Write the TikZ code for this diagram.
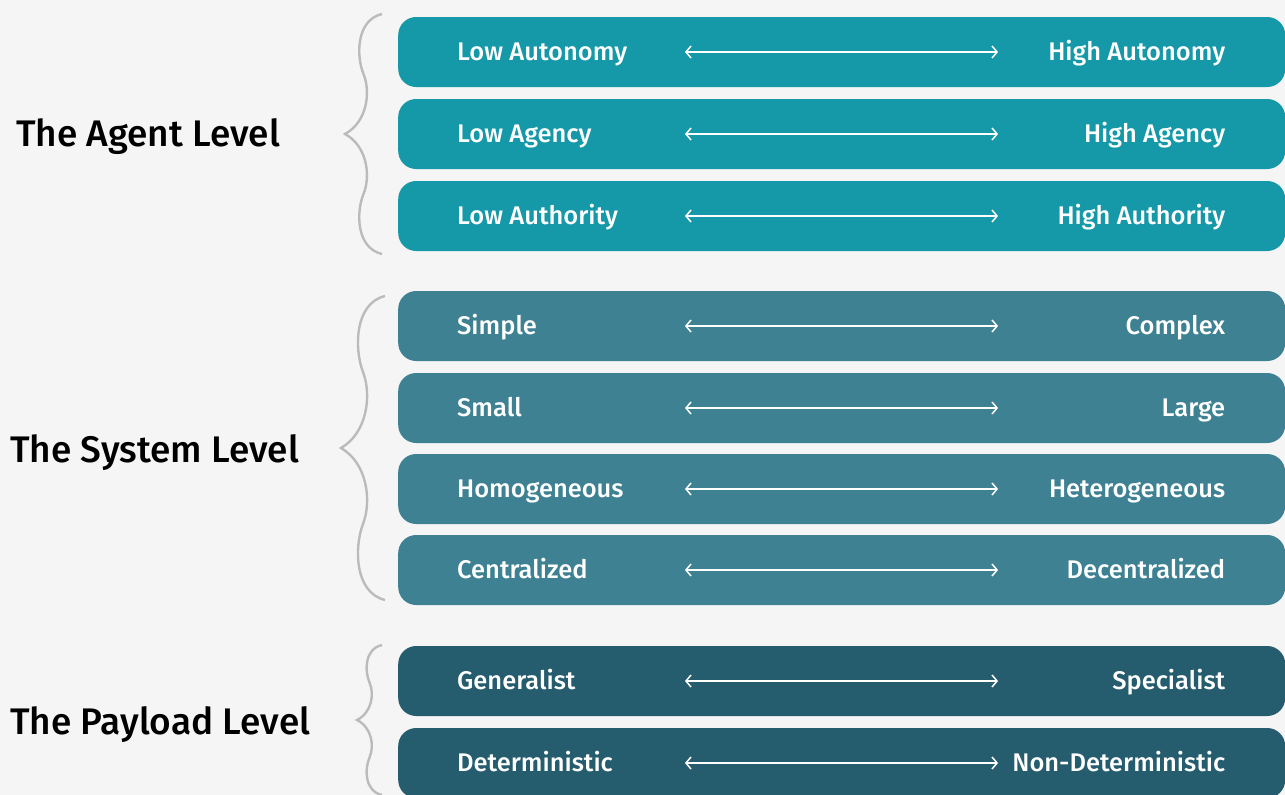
\documentclass[tikz,border=0pt]{standalone}
\usepackage{fontspec}
\setmainfont{Fira Sans}[UprightFont={* Medium}]
\usetikzlibrary{arrows.meta,positioning}
\definecolor{pagebg}{HTML}{F5F5F5}
\definecolor{agentc}{HTML}{1598A8}
\definecolor{systemc}{HTML}{3E8192}
\definecolor{payloadc}{HTML}{255C6E}
\definecolor{bracec}{HTML}{BBBBBB}

\tikzset{
  bar/.style={fill=#1, rounded corners=18pt, minimum width=887pt, minimum height=70pt, anchor=west, inner sep=0pt},
  lowlbl/.style={text=white, inner sep=0pt, text height=17.6pt, text depth=0pt, font=\fontsize{25.5}{28}\selectfont},
  highlbl/.style={text=white, inner sep=0pt, text height=17.6pt, text depth=0pt, font=\fontsize{25.5}{28}\selectfont},
  span/.style={{Straight Barb[length=5pt,width=12pt]}-{Straight Barb[length=5pt,width=12pt]}, white, line width=1.5pt},
  levellbl/.style={anchor=west, inner sep=0pt, text height=25.5pt, text depth=0pt, font=\fontsize{37}{42}\selectfont},
  brace/.style={draw=bracec, line width=2.4pt}
}

% tip x, tip y, width, half height
\newcommand\levelbrace[4]{%
  \draw[brace, shift={(#1,#2)}, x=#3pt, y=-#4pt]
    (1,-1) .. controls (0.3,-0.95) and (0.3,-0.65) .. (0.5,-0.5)
           .. controls (0.7,-0.35) and (0.6,-0.1) .. (0,0)
           .. controls (0.6,0.1) and (0.7,0.35) .. (0.5,0.5)
           .. controls (0.3,0.65) and (0.3,0.95) .. (1,1);}

\begin{document}
\begin{tikzpicture}[x=1pt, y=-1pt]
  \fill[pagebg] (0,0) rectangle (1285,795);
  \clip (0,0) rectangle (1285,795);

  % bars
  \foreach \nm/\y/\lo/\hi/\col in {
      a1/52/Low Autonomy/High Autonomy/agentc,
      a2/134/Low Agency/High Agency/agentc,
      a3/216/Low Authority/High Authority/agentc,
      s1/326/Simple/Complex/systemc,
      s2/408/Small/Large/systemc,
      s3/489/Homogeneous/Heterogeneous/systemc,
      s4/570/Centralized/Decentralized/systemc,
      p1/681/Generalist/Specialist/payloadc,
      p2/763/Deterministic/Non-Deterministic/payloadc} {
    \node[bar=\col] (\nm) at (398,\y) {};
    \node[lowlbl, right=59pt of \nm.west, anchor=west] (\nm lo) {\lo};
    \node[highlbl, left=60pt of \nm.east, anchor=east] (\nm hi) {\hi};
    \coordinate[right=287pt of \nm.west] (\nm l);
    \coordinate[right=600pt of \nm.west] (\nm r);
    \draw[span] (\nm l) -- (\nm r);
  }

  % levels
  \node[levellbl] (agent)   at (16,134) {The Agent Level};
  \node[levellbl] (system)  at (10,450) {The System Level};
  \node[levellbl] (payload) at (10,722) {The Payload Level};

  \levelbrace{345}{134}{37}{120}
  \levelbrace{341}{448}{44}{152}
  \levelbrace{357}{720}{25}{75}
\end{tikzpicture}
\end{document}
